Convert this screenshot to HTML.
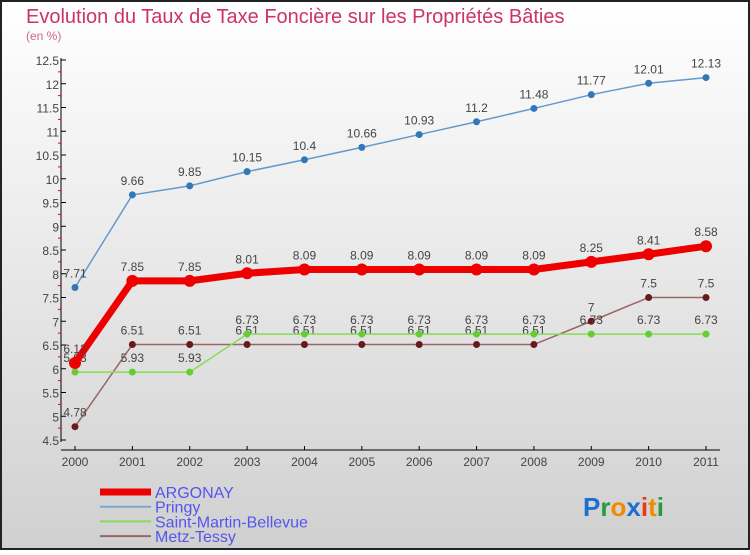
<!DOCTYPE html>
<html><head><meta charset="utf-8"><style>
body{margin:0;width:750px;height:550px;overflow:hidden;font-family:"Liberation Sans",sans-serif}
</style></head><body>
<svg id="c" width="750" height="550" xmlns="http://www.w3.org/2000/svg">
<defs><linearGradient id="bg" x1="0" y1="0" x2="0" y2="1"><stop offset="0" stop-color="#ffffff"/><stop offset="1" stop-color="#d0d0d0"/></linearGradient></defs>
<rect x="1" y="1" width="748" height="548" fill="url(#bg)" stroke="#222" stroke-width="2"/>
<text x="26" y="23" font-size="20" fill="#cc3366">Evolution du Taux de Taxe Foncière sur les Propriétés Bâties</text>
<text x="26" y="40" font-size="12" fill="#cc6688">(en %)</text>
<g id="axes"></g><g id="series"></g><g id="legend"></g>
<g font-size="26" font-weight="bold">
<text x="583" y="516"><tspan fill="#1a6fd0">P</tspan><tspan fill="#2a9a3a">r</tspan><tspan fill="#f08a00">o</tspan><tspan fill="#1a6fd0">x</tspan><tspan fill="#e83a10">i</tspan><tspan fill="#f08a00">t</tspan><tspan fill="#2a9a3a">i</tspan></text></g>
</svg>
<script>
const years=["2000","2001","2002","2003","2004","2005","2006","2007","2008","2009","2010","2011"];
const yTicks=[4.5,5,5.5,6,6.5,7,7.5,8,8.5,9,9.5,10,10.5,11,11.5,12,12.5];
const argonay=[6.12,7.85,7.85,8.01,8.09,8.09,8.09,8.09,8.09,8.25,8.41,8.58];
const pringy=[7.71,9.66,9.85,10.15,10.4,10.66,10.93,11.2,11.48,11.77,12.01,12.13];
const smb=[5.93,5.93,5.93,6.73,6.73,6.73,6.73,6.73,6.73,6.73,6.73,6.73];
const metz=[4.78,6.51,6.51,6.51,6.51,6.51,6.51,6.51,6.51,7,7.5,7.5];
const NS="http://www.w3.org/2000/svg";
const X=i=>75+i*(706-75)/11, Y=v=>440-(v-4.5)*47.5;
function mk(t,a,p){const e=document.createElementNS(NS,t);for(const k in a)e.setAttribute(k,a[k]);p.appendChild(e);return e;}
const ax=document.getElementById('axes');
let l=mk('line',{x1:61,y1:58,x2:61,y2:442,stroke:'#000'},ax);

l=mk('line',{x1:61,y1:450,x2:720,y2:450,stroke:'#000'},ax);

yTicks.forEach((v,i)=>{
 mk('line',{x1:61,y1:Y(v),x2:66,y2:Y(v),stroke:'#000'},ax);
 if(i>0)mk('line',{x1:58,y1:Y(v-0.25),x2:61,y2:Y(v-0.25),stroke:'#e00'},ax);
 const t=mk('text',{x:59,y:Y(v)+5,'font-size':12,'text-anchor':'end',fill:'#444'},ax);t.textContent=v;
 
});
years.forEach((y,i)=>{
 mk('line',{x1:X(i),y1:446,x2:X(i),y2:450,stroke:'#000'},ax);
 const t=mk('text',{x:X(i),y:466,'font-size':12,'text-anchor':'middle',fill:'#444'},ax);t.textContent=y;
 
});
const sg=document.getElementById('series');
function series(data,name,col,dot,w,r){
 const g=mk('g',{},sg);
 mk('polyline',{points:data.map((v,i)=>X(i)+','+Y(v)).join(' '),fill:'none',stroke:col,'stroke-width':w},g);
 data.forEach((v,i)=>{const c=mk('circle',{cx:X(i),cy:Y(v),r:r,fill:dot},g);
  
  const t=mk('text',{x:X(i),y:Y(v)-10,'font-size':12,'text-anchor':'middle',fill:'#444'},g);t.textContent=v;
  });
}
series(metz,'metz-tessy','#996666','#661a1a',1.5,3.5);
series(smb,'saint-martin-bellevue','#88dd55','#66cc33',1.5,3.5);
series(pringy,'pringy','#6699cc','#3377bb',1.5,3.5);
series(argonay,'argonay','#ee0000','#ee0000',7,6);
const lg=document.getElementById('legend');
const names=["ARGONAY","Pringy","Saint-Martin-Bellevue","Metz-Tessy"],cols=['#ee0000','#77aacc','#88dd55','#996666'],ws=[7,2,2,2];
names.forEach((n,i)=>{const yy=492+i*14.7;
 const g=mk('g',{},lg);
 mk('line',{x1:100,y1:yy,x2:151,y2:yy,stroke:cols[i],'stroke-width':ws[i]},g);
 const t=mk('text',{x:155,y:yy+6,'font-size':16,fill:'#5555ee'},g);t.textContent=n;});
</script>
</body></html>
